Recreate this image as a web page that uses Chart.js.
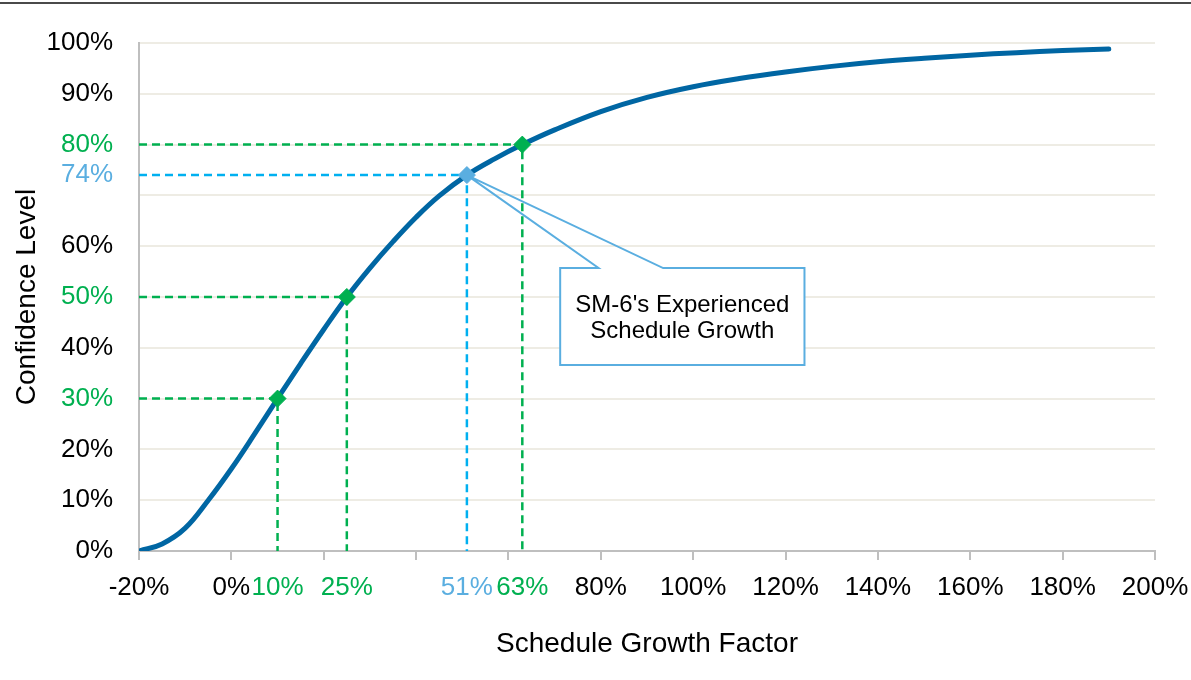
<!DOCTYPE html>
<html>
<head>
<meta charset="utf-8">
<script src="https://cdn.jsdelivr.net/npm/chart.js@4"></script>
<style>
  html, body { margin: 0; padding: 0; background: #fff; }
  #wrap { position: relative; width: 1191px; height: 680px; }
  canvas { display: block; }
</style>
</head>
<body>
<div id="wrap"><canvas id="c" width="1191" height="680"></canvas></div>
<script>
// Cumulative confidence curve (schedule growth %, confidence %)
const growthPct = [-20, -15, -10, -5, 0, 5, 10, 15, 20, 25, 30, 35, 40, 45, 51, 57, 63, 70, 80, 90, 100, 110, 120, 130, 140, 150, 160, 170, 180, 190];
const confidencePct = [0, 1.4, 4.5, 10.0, 16.2, 23.0, 30, 36.9, 43.6, 50, 55.7, 60.9, 65.7, 69.9, 74, 77.2, 80, 82.9, 86.5, 89.3, 91.4, 93.0, 94.3, 95.4, 96.3, 97.0, 97.6, 98.1, 98.5, 98.8];

// Highlighted confidence levels
const markerGrowth = [10, 25, 63];
const markerConfidence = [30, 50, 80];

// SM-6 experienced schedule growth
const actualGrowth = [51];
const actualConfidence = [74];

// Axis ticks
const xTickValues = [-20, 0, 10, 20, 25, 40, 51, 60, 63, 80, 100, 120, 140, 160, 180, 200];
const xHiddenLabels = [20, 40, 60];
const xMarkOnly = [-20, 0, 20, 40, 60, 80, 100, 120, 140, 160, 180, 200];
const yTickValues = [0, 10, 20, 30, 40, 50, 60, 70, 74, 80, 90, 100];
const yHiddenLabels = [70];
const yGridValues = [0, 10, 20, 30, 40, 50, 60, 70, 80, 90, 100];

const GREEN = '#00b050';
const BLUE_LABEL = '#5aaee0';
const BLUE_DASH = '#00b0f0';
const CURVE = '#0066a3';
const FONT = "'Liberation Sans', Arial, Helvetica, sans-serif";

const curvePoints = growthPct.map((g, i) => ({ x: g, y: confidencePct[i] }));

function guide(gx, gy) {
  return [{ x: -20, y: gy }, { x: gx, y: gy }, { x: gx, y: 0 }];
}

const datasets = [];
markerGrowth.forEach((g, i) => {
  datasets.push({
    data: guide(g, markerConfidence[i]),
    showLine: true, borderColor: GREEN, borderWidth: 2.5, borderDash: [8, 5],
    pointRadius: 0, tension: 0, order: 4
  });
});
datasets.push({
  data: guide(actualGrowth[0], actualConfidence[0]),
  showLine: true, borderColor: BLUE_DASH, borderWidth: 2.5, borderDash: [8, 5],
  pointRadius: 0, tension: 0, order: 4
});
datasets.push({
  data: curvePoints,
  showLine: true, borderColor: CURVE, borderWidth: 5, borderCapStyle: 'round',
  pointRadius: 0, tension: 0.4, order: 3
});
datasets.push({
  data: markerGrowth.map((g, i) => ({ x: g, y: markerConfidence[i] })),
  showLine: false, pointStyle: 'rectRot', pointRadius: 8.5,
  pointBackgroundColor: GREEN, pointBorderColor: GREEN, pointBorderWidth: 1, order: 1
});
datasets.push({
  data: [{ x: actualGrowth[0], y: actualConfidence[0] }],
  showLine: false, pointStyle: 'rectRot', pointRadius: 8.5,
  pointBackgroundColor: BLUE_LABEL, pointBorderColor: BLUE_LABEL, pointBorderWidth: 1, order: 1
});

// Callout box pointing at the SM-6 point (anchored in data units)
const calloutBox = { left: 71.2, right: 124.1, top: 55.7, bottom: 36.6, tip1: 79.5, tip2: 93.5 };
const calloutLines = ["SM-6's Experienced", 'Schedule Growth'];

const calloutPlugin = {
  id: 'callout',
  beforeDatasetsDraw(chart) {
    const { ctx, scales: { x, y } } = chart;
    const px = x.getPixelForValue(actualGrowth[0]);
    const py = y.getPixelForValue(actualConfidence[0]);
    const L = x.getPixelForValue(calloutBox.left), R = x.getPixelForValue(calloutBox.right);
    const T = y.getPixelForValue(calloutBox.top), B = y.getPixelForValue(calloutBox.bottom);
    const t1 = x.getPixelForValue(calloutBox.tip1), t2 = x.getPixelForValue(calloutBox.tip2);
    ctx.save();
    ctx.fillStyle = '#fff';
    ctx.fillRect(L, T, R - L, B - T);
    ctx.beginPath();
    ctx.moveTo(L, T); ctx.lineTo(t1, T); ctx.lineTo(px, py); ctx.lineTo(t2, T);
    ctx.lineTo(R, T); ctx.lineTo(R, B); ctx.lineTo(L, B); ctx.closePath();
    ctx.lineWidth = 2; ctx.strokeStyle = BLUE_LABEL; ctx.lineJoin = 'miter';
    ctx.stroke();
    ctx.fillStyle = '#000';
    ctx.font = '24px ' + FONT;
    ctx.textAlign = 'center';
    ctx.textBaseline = 'middle';
    const cx = (L + R) / 2, cy = (T + B) / 2;
    ctx.fillText(calloutLines[0], cx, cy - 11);
    ctx.fillText(calloutLines[1], cx, cy + 15);
    ctx.restore();
  }
};

const frameLine = {
  id: 'frameLine',
  beforeDraw(chart) {
    const ctx = chart.ctx;
    ctx.save();
    ctx.fillStyle = '#fff';
    ctx.fillRect(0, 0, chart.width, chart.height);
    ctx.fillStyle = '#4a4a4a';
    ctx.fillRect(0, 2, chart.width, 2);
    ctx.restore();
  }
};

new Chart(document.getElementById('c'), {
  type: 'scatter',
  data: { datasets },
  plugins: [frameLine, calloutPlugin],
  options: {
    responsive: false,
    animation: false,
    layout: { padding: { top: 43, right: 36, left: 0, bottom: 0 } },
    plugins: { legend: { display: false }, tooltip: { enabled: false } },
    scales: {
      x: {
        type: 'linear', min: -20, max: 200,
        afterBuildTicks: s => { s.ticks = xTickValues.map(v => ({ value: v })); },
        afterFit: s => { s.height = 129; s.paddingLeft = 0; s.paddingRight = 0; },
        border: { color: '#bfbfbf', width: 2 },
        grid: {
          drawOnChartArea: false, drawTicks: true, tickLength: 9, lineWidth: 2,
          color: c => xMarkOnly.includes(c.tick.value) ? '#bfbfbf' : 'rgba(0,0,0,0)'
        },
        ticks: {
          autoSkip: false, maxRotation: 0, padding: 12,
          font: { family: FONT, size: 26 },
          color: c => {
            const v = c.tick.value;
            if (v === 51) return BLUE_LABEL;
            if (markerGrowth.includes(v)) return GREEN;
            return '#000';
          },
          callback: v => xHiddenLabels.includes(v) ? '' : v + '%'
        },
        title: {
          display: true, text: 'Schedule Growth Factor', color: '#000',
          font: { family: FONT, size: 28 }, padding: { top: 0, bottom: 19 }
        }
      },
      y: {
        type: 'linear', min: 0, max: 100,
        afterBuildTicks: s => { s.ticks = yTickValues.map(v => ({ value: v })); },
        afterFit: s => { s.width = 139; },
        border: { color: '#bfbfbf', width: 2 },
        grid: {
          drawTicks: false, lineWidth: 2,
          color: c => yGridValues.includes(c.tick.value) ? '#eeece4' : 'rgba(0,0,0,0)'
        },
        ticks: {
          autoSkip: false, padding: 26,
          font: { family: FONT, size: 26 },
          color: c => {
            const v = c.tick.value;
            if (v === 74) return BLUE_LABEL;
            if (markerConfidence.includes(v)) return GREEN;
            return '#000';
          },
          callback: v => yHiddenLabels.includes(v) ? '' : v + '%'
        },
        title: {
          display: true, text: 'Confidence Level', color: '#000',
          font: { family: FONT, size: 28 }, padding: { top: 10, bottom: 0 }
        }
      }
    }
  }
});
</script>
</body>
</html>
